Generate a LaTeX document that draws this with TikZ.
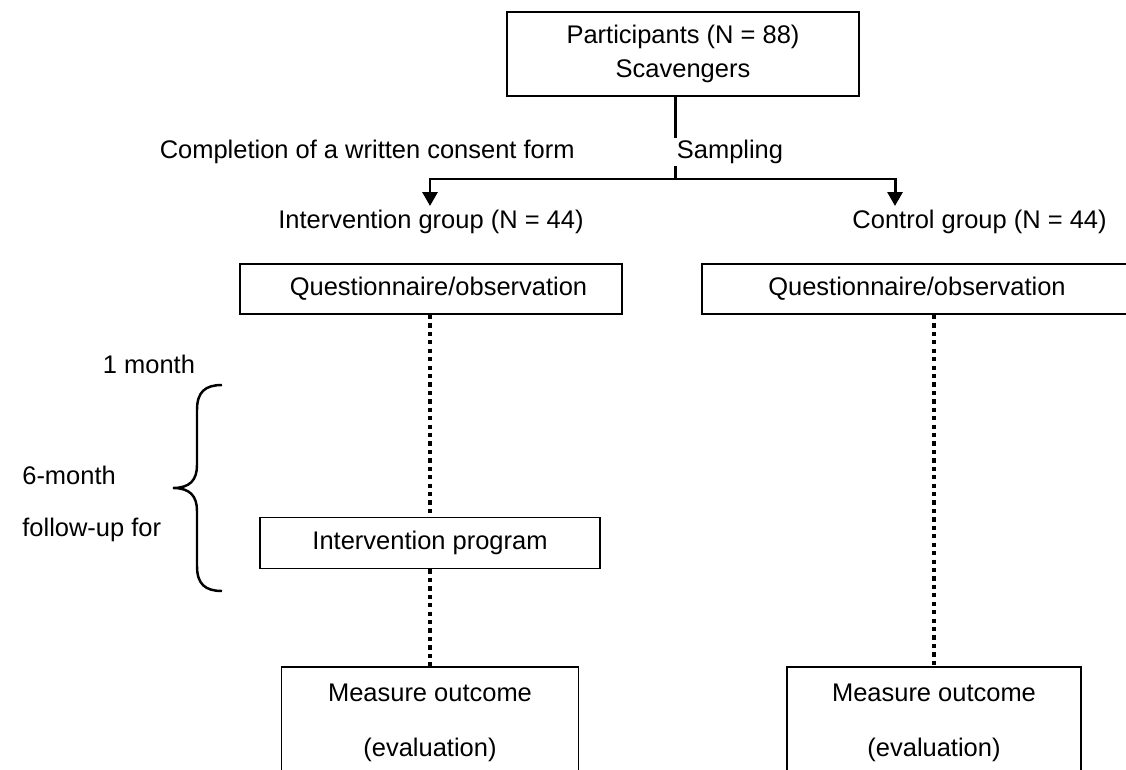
\documentclass[tikz,border=0pt]{standalone}
\usepackage{fontspec}
\setmainfont{Liberation Sans}
\usetikzlibrary{arrows.meta}
\tikzset{
    box/.style={draw, line width=1.1pt, inner sep=0pt, align=center},
    lbl/.style={inner sep=0pt},
    arr/.style={line width=1.7pt, -{Triangle[width=0.3cm, length=0.28cm]}},
    dotline/.style={line width=2.3pt, dash pattern=on 2.4pt off 2.4pt},
}
\begin{document}
\begin{tikzpicture}[x=0.02cm, y=-0.02cm, font=\fontsize{14.5}{19.3}\selectfont]
        \useasboundingbox (0, 0) rectangle (1126, 770);
        \clip (0, 0) rectangle (1126, 770);
        \draw (683, 54) node[box, minimum width=7.04cm, minimum height=1.68cm](top){Participants (N = 88)\\Scavengers}
        (431, 289) node[box, minimum width=7.64cm, minimum height=1cm](lq){\hspace*{0.3cm}Questionnaire/observation}
        (917, 289) node[box, minimum width=8.6cm, minimum height=1cm](rq){Questionnaire/observation}
        (430, 543) node[box, minimum width=6.8cm, minimum height=1.02cm](ip){Intervention program}
        (430, 722.5) node[box, minimum width=5.94cm, minimum height=2.22cm](lm){Measure outcome\\[12pt](evaluation)}
        (934, 722.5) node[box, minimum width=5.88cm, minimum height=2.22cm](rm){Measure outcome\\[12pt](evaluation)};
        \draw (575, 152) node[lbl, anchor=east](consent){Completion of a written consent form}
        (431, 222) node[lbl](lgrp){Intervention group (N = 44)}
        (1107, 222) node[lbl, anchor=east](rgrp){Control group (N = 44)}
        (149, 364) node[lbl](one){1 month}
        (22, 475) node[lbl, anchor=west](six){6-month}
        (22, 530) node[lbl, anchor=west](follow){follow-up for};
        \coordinate (split) at (675, 179);
        \coordinate (lend) at (430, 206);
        \coordinate (rend) at (895, 206);
        \draw[line width=1.7pt, line cap=rect] (split |- top.south) -- (split);
        \draw (673, 152) node[anchor=west, fill=white, inner xsep=2pt, inner ysep=1pt](samp){Sampling};
        \draw[arr] (split) -| (lend);
        \draw[arr] (split) -| (rend);
        \draw[dotline] (lq.south -| ip.north) -- (ip.north);
        \draw[dotline] (ip.south) -- (lm.north);
        \draw[dotline] (rq.south -| rm.north) -- (rm.north);
        \draw[line width=1.4pt] (222, 385) .. controls (205, 385) and (197, 392) .. (197, 410) -- (197, 465)
        .. controls (197, 480) and (190, 488) .. (173, 488) .. controls (190, 488) and (197, 496) .. (197, 511)
        -- (197, 566) .. controls (197, 584) and (205, 591) .. (222, 591);
    \end{tikzpicture}
\end{document}
